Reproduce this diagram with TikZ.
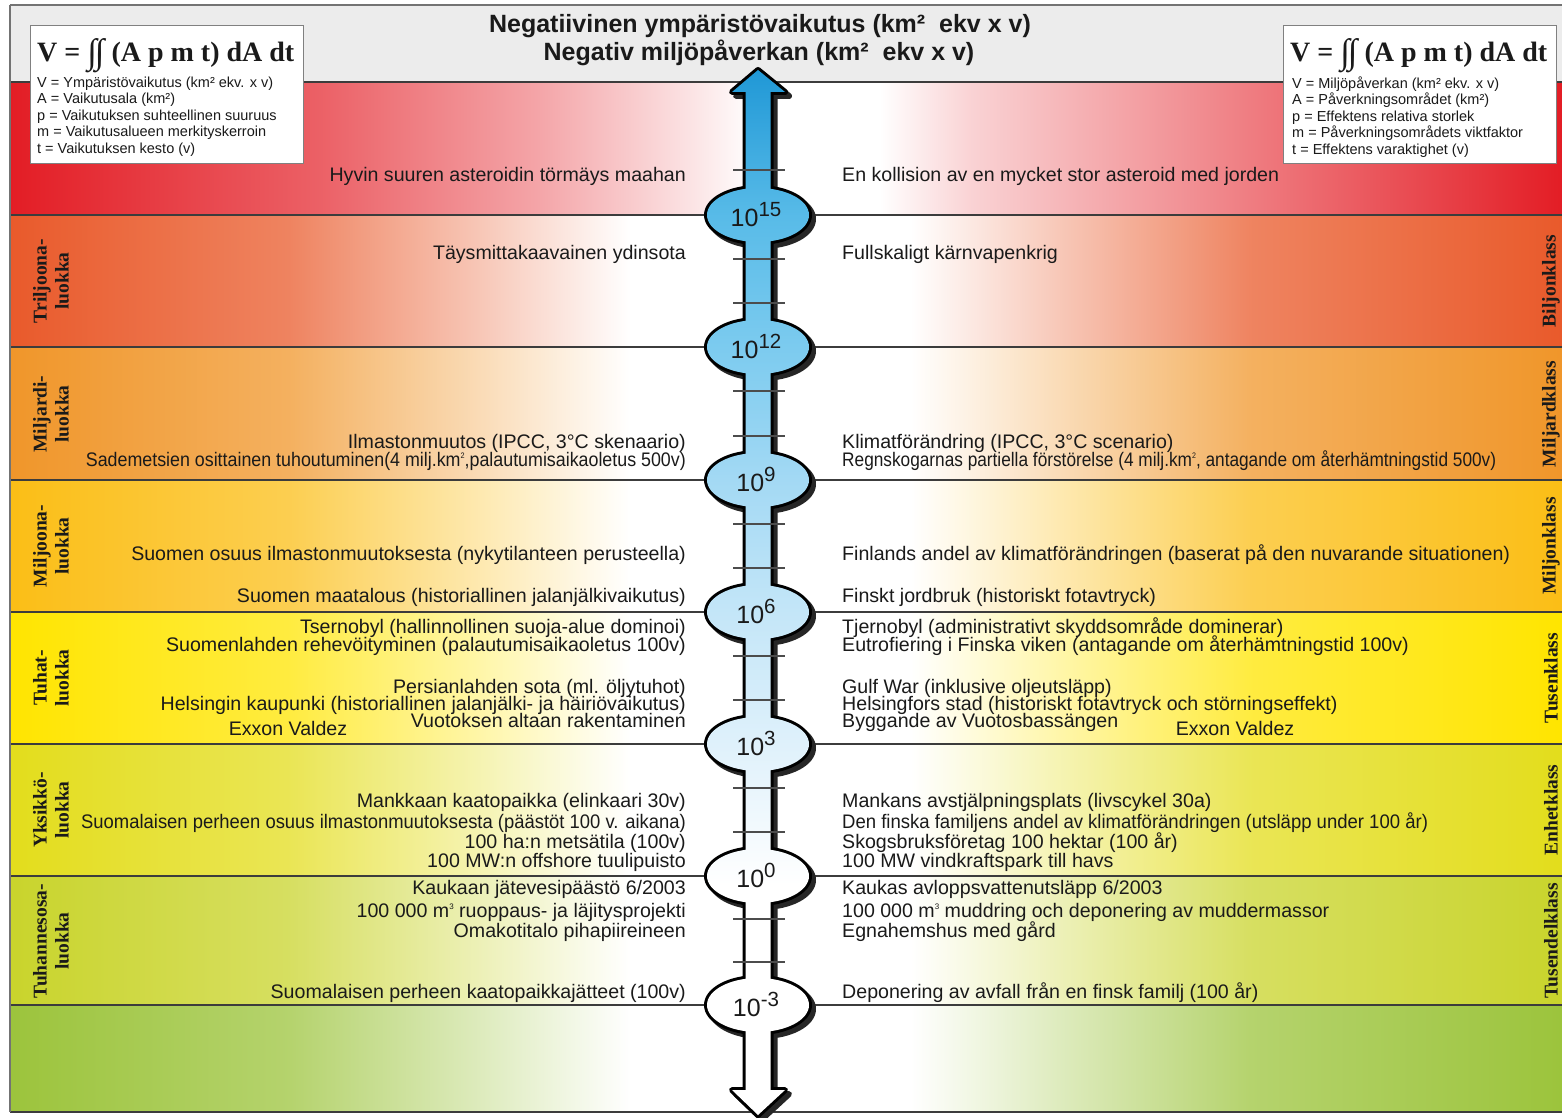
\documentclass[tikz,border=0pt]{standalone}
\usepackage{fontspec}
\setmainfont{Liberation Sans}
\newfontfamily\tnr{Liberation Serif}
\definecolor{cRed}{HTML}{E31D25}
\definecolor{cTri}{HTML}{E95A2B}
\definecolor{cMrd}{HTML}{F0962A}
\definecolor{cMil}{HTML}{FBBE16}
\definecolor{cTuh}{HTML}{FFE500}
\definecolor{cYks}{HTML}{E3DD1C}
\definecolor{cTho}{HTML}{C9D42C}
\definecolor{cBot}{HTML}{9CC43C}
\definecolor{hdr}{HTML}{ECECEC}
\definecolor{lineC}{HTML}{3C3C3C}
\definecolor{txt}{HTML}{1A1A1A}
\definecolor{a0}{HTML}{2098D6}
\definecolor{a1}{HTML}{58BBE8}
\definecolor{a2}{HTML}{7CCBEF}
\definecolor{a3}{HTML}{A3D9F4}
\definecolor{a4}{HTML}{C4E6F8}
\definecolor{a5}{HTML}{DFF1FB}
\colorlet{bandc}{cRed}
\pgfdeclarehorizontalshading[bandc]{bandshade}{100bp}{color(0bp)=(bandc); color(25bp)=(bandc); color(34bp)=(bandc!75!white); color(40bp)=(bandc!35!white); color(45bp)=(white); color(54bp)=(white); color(59bp)=(bandc!35!white); color(65bp)=(bandc!75!white); color(75bp)=(bandc); color(100bp)=(bandc)}
\pgfdeclarehorizontalshading[bandc]{redshade}{100bp}{color(0bp)=(bandc); color(25bp)=(bandc); color(35bp)=(bandc!70!white); color(42bp)=(bandc!40!white); color(47bp)=(bandc!12!white); color(49bp)=(white); color(53bp)=(white); color(56bp)=(bandc!20!white); color(62bp)=(bandc!45!white); color(69bp)=(bandc!75!white); color(75bp)=(bandc); color(100bp)=(bandc)}
\pgfdeclareverticalshading{arrowshade}{100bp}{color(0bp)=(white); color(36bp)=(white); color(42.7bp)=(a5); color(49bp)=(a4); color(55.4bp)=(a3); color(61.7bp)=(a2); color(68bp)=(a1); color(75bp)=(a0); color(100bp)=(a0)}
\newcommand\band[4]{\colorlet{bandc}{#3}\shade[shading=#4] (10,-#1) rectangle (1562,-#2);}
\newcommand\arrowpath{(785,-92) -- (758,-70) -- (732,-92) -- cycle
 (745.5,-1091) -- (770.5,-1091) -- (770.5,-91) -- (745.5,-91) -- cycle
 (732,-1090) -- (758,-1115) -- (785,-1090) -- cycle
 (758,-215) ellipse [x radius=51, y radius=27]
 (758,-347) ellipse [x radius=51, y radius=27]
 (758,-480) ellipse [x radius=51, y radius=27]
 (758,-612) ellipse [x radius=51, y radius=27]
 (758,-744) ellipse [x radius=51, y radius=27]
 (758,-876) ellipse [x radius=51, y radius=27]
 (758,-1005) ellipse [x radius=51, y radius=27]}
\newcommand\fs{\fontsize{19.6}{21}\selectfont}
\newcommand\smallsup[1]{\raisebox{0.75ex}{\fontsize{8}{8}\selectfont #1}}
\newcommand\bsup[1]{\raisebox{10pt}{\fontsize{20.5}{20}\selectfont #1}}
\newcommand\sq[2]{\scalebox{#1}[1]{#2}}
\newcommand\ints{\raisebox{-2pt}{\fontsize{35}{35}\selectfont ∫\kern-2pt∫}}
\tikzset{
 lt/.style={anchor=base east, font=\fs, text=txt},
 rt/.style={anchor=base west, font=\fs, text=txt},
 lbl/.style={rotate=90, align=center, font=\tnr\bfseries\fontsize{19.5}{22}\selectfont, text=txt},
 bline/.style={draw=lineC, line width=1.8pt},
 frame/.style={draw=black!55, line width=1.5pt},
 tickl/.style={draw=black!70, line width=1.5pt},
 fbox/.style={draw=black!50, line width=1.2pt, fill=white, anchor=north west, minimum width=273pt, minimum height=138pt},
 ftitle/.style={anchor=base west, font=\tnr\bfseries\fontsize{28}{30}\selectfont, text=txt},
 fdesc/.style={anchor=north west, align=left, font=\fontsize{14.5}{16.5}\selectfont, text=txt},
 bulb/.style={anchor=base, font=\fontsize{25}{26}\selectfont, text=txt},
 ttl/.style={anchor=base, font=\bfseries\fontsize{25}{26}\selectfont, text=txt}
}
\begin{document}
\begin{tikzpicture}[x=1pt,y=1pt, every node/.style={inner sep=0pt}]
\useasboundingbox (0,0) rectangle (1562,-1118);
\fill[white] (0,0) rectangle (1562,-1118);
\fill[hdr] (10,-5) rectangle (1562,-82);
\band{82}{215}{cRed}{redshade}
\band{215}{347}{cTri}{bandshade}
\band{347}{480}{cMrd}{bandshade}
\band{480}{612}{cMil}{bandshade}
\band{612}{744}{cTuh}{bandshade}
\band{744}{876}{cYks}{bandshade}
\band{876}{1005}{cTho}{bandshade}
\band{1005}{1112}{cBot}{bandshade}
\foreach \y in {82,215,347,480,612,744,876,1005,1112} \draw[bline] (10,-\y) -- (1562,-\y);
\draw[frame] (10,-5) -- (1562,-5);
\draw[frame] (10,-5) -- (10,-1112);
% title
\node[ttl] (t1) at (760,-33) {Negatiivinen ympäristövaikutus (km²\ \ ekv x v)};
\node[ttl] (t2) at (759,-61) {Negativ miljöpåverkan (km²\ \ ekv x v)};
% formula boxes
\node[fbox] (boxL) at (30,-25) {};
\node[ftitle] (fL) at (37,-62) {V = \ints\ (A p m t) dA dt};
\node[fdesc] (dL) at (37,-76.5) {V = Ympäristövaikutus (km² ekv. x v)\\A = Vaikutusala (km²)\\p = Vaikutuksen suhteellinen suuruus\\m = Vaikutusalueen merkityskerroin\\t = Vaikutuksen kesto (v)};
\node[fbox] (boxR) at (1283,-25) {};
\node[ftitle] (fR) at (1290,-62) {V = \ints\ (A p m t) dA dt};
\node[fdesc] (dR) at (1292,-76.5) {V = Miljöpåverkan (km² ekv. x v)\\A = Påverkningsområdet (km²)\\p = Effektens relativa storlek\\m = Påverkningsområdets viktfaktor\\t = Effektens varaktighet (v)};
% arrow
\begin{scope}[shift={(4,-4)}]
\fill[black!85] \arrowpath;
\draw[black!85, line width=6pt, line join=round] \arrowpath;
\end{scope}
\draw[black, line width=6pt, line join=round] \arrowpath;
\shade[shading=arrowshade] \arrowpath;
\foreach \y in {170,259,303,391,436,524,568,656,700,788,832,919,962} \draw[tickl] (733,-\y) -- (785,-\y);
\node[bulb] (b15) at (756,-226) {10\bsup{15}};
\node[bulb] (b12) at (756,-358) {10\bsup{12}};
\node[bulb] (b9) at (756,-491) {10\bsup{9}};
\node[bulb] (b6) at (756,-623) {10\bsup{6}};
\node[bulb] (b3) at (756,-755) {10\bsup{3}};
\node[bulb] (b0) at (756,-887) {10\bsup{0}};
\node[bulb] (bm3) at (756,-1016) {10\bsup{-3}};
% side labels
\node[lbl] (lTri) at (51,-281) {Triljoona-\\luokka};
\node[lbl] (lMrd) at (51,-414) {Miljardi-\\luokka};
\node[lbl] (lMil) at (51,-546) {Miljoona-\\luokka};
\node[lbl] (lTuh) at (51,-678) {Tuhat-\\luokka};
\node[lbl] (lYks) at (51,-810) {Yksikkö-\\luokka};
\node[lbl] (lTho) at (51,-941) {Tuhannesosa-\\luokka};
\node[lbl] (rTri) at (1551,-281) {Biljonklass};
\node[lbl] (rMrd) at (1551,-414) {Miljardklass};
\node[lbl] (rMil) at (1551,-546) {Miljonklass};
\node[lbl] (rTuh) at (1551,-678) {Tusenklass};
\node[lbl] (rYks) at (1551,-810) {Enhetklass};
\node[lbl] (rTho) at (1551,-941) {Tusendelklass};
% left texts
\node[lt] (L1) at (686,-181.5) {Hyvin suuren asteroidin törmäys maahan};
\node[lt] (L2) at (686,-259.5) {Täysmittakaavainen ydinsota};
\node[lt] (L3) at (686,-448.5) {Ilmastonmuutos (IPCC, 3°C skenaario)};
\node[lt] (L4) at (686,-466.5) {\sq{0.91}{Sademetsien osittainen tuhoutuminen(4 milj.km\smallsup{2},palautumisaikaoletus 500v)}};
\node[lt] (L5) at (686,-560.5) {Suomen osuus ilmastonmuutoksesta (nykytilanteen perusteella)};
\node[lt] (L6) at (686,-602.5) {Suomen maatalous (historiallinen jalanjälkivaikutus)};
\node[lt] (L7) at (686,-633.5) {Tsernobyl (hallinnollinen suoja-alue dominoi)};
\node[lt] (L8) at (686,-651.5) {Suomenlahden rehevöityminen (palautumisaikaoletus 100v)};
\node[lt] (L9) at (686,-693.5) {Persianlahden sota (ml. öljytuhot)};
\node[lt] (L10) at (686,-710.5) {Helsingin kaupunki (historiallinen jalanjälki- ja häiriövaikutus)};
\node[lt] (L11) at (686,-727.5) {Vuotoksen altaan rakentaminen};
\node[lt, anchor=base] (L12) at (288,-735.5) {Exxon Valdez};
\node[lt] (L13) at (686,-807.5) {Mankkaan kaatopaikka (elinkaari 30v)};
\node[lt] (L14) at (686,-828.5) {\sq{0.94}{Suomalaisen perheen osuus ilmastonmuutoksesta (päästöt 100 v. aikana)}};
\node[lt] (L15) at (686,-848.5) {100 ha:n metsätila (100v)};
\node[lt] (L16) at (686,-867.5) {100 MW:n offshore tuulipuisto};
\node[lt] (L17) at (686,-894.5) {Kaukaan jätevesipäästö 6/2003};
\node[lt] (L18) at (686,-917.5) {100 000 m\smallsup{3} ruoppaus- ja läjitysprojekti};
\node[lt] (L19) at (686,-937.5) {Omakotitalo pihapiireineen};
\node[lt] (L20) at (686,-998.5) {Suomalaisen perheen kaatopaikkajätteet (100v)};
% right texts
\node[rt] (R1) at (842,-181.5) {En kollision av en mycket stor asteroid med jorden};
\node[rt] (R2) at (842,-259.5) {Fullskaligt kärnvapenkrig};
\node[rt] (R3) at (842,-448.5) {Klimatförändring (IPCC, 3°C scenario)};
\node[rt] (R4) at (842,-466.5) {\sq{0.88}{Regnskogarnas partiella förstörelse (4 milj.km\smallsup{2}, antagande om återhämtningstid 500v)}};
\node[rt] (R5) at (842,-560.5) {Finlands andel av klimatförändringen (baserat på den nuvarande situationen)};
\node[rt] (R6) at (842,-602.5) {Finskt jordbruk (historiskt fotavtryck)};
\node[rt] (R7) at (842,-633.5) {Tjernobyl (administrativt skyddsområde dominerar)};
\node[rt] (R8) at (842,-651.5) {Eutrofiering i Finska viken (antagande om återhämtningstid 100v)};
\node[rt] (R9) at (842,-693.5) {Gulf War (inklusive oljeutsläpp)};
\node[rt] (R10) at (842,-710.5) {Helsingfors stad (historiskt fotavtryck och störningseffekt)};
\node[rt] (R11) at (842,-727.5) {Byggande av Vuotosbassängen};
\node[rt, anchor=base] (R12) at (1235,-735.5) {Exxon Valdez};
\node[rt] (R13) at (842,-807.5) {Mankans avstjälpningsplats (livscykel 30a)};
\node[rt] (R14) at (842,-828.5) {\sq{0.945}{Den finska familjens andel av klimatförändringen (utsläpp under 100 år)}};
\node[rt] (R15) at (842,-848.5) {Skogsbruksföretag 100 hektar (100 år)};
\node[rt] (R16) at (842,-867.5) {100 MW vindkraftspark till havs};
\node[rt] (R17) at (842,-894.5) {Kaukas avloppsvattenutsläpp 6/2003};
\node[rt] (R18) at (842,-917.5) {100 000 m\smallsup{3} muddring och deponering av muddermassor};
\node[rt] (R19) at (842,-937.5) {Egnahemshus med gård};
\node[rt] (R20) at (842,-998.5) {Deponering av avfall från en finsk familj (100 år)};
\end{tikzpicture}
\end{document}
